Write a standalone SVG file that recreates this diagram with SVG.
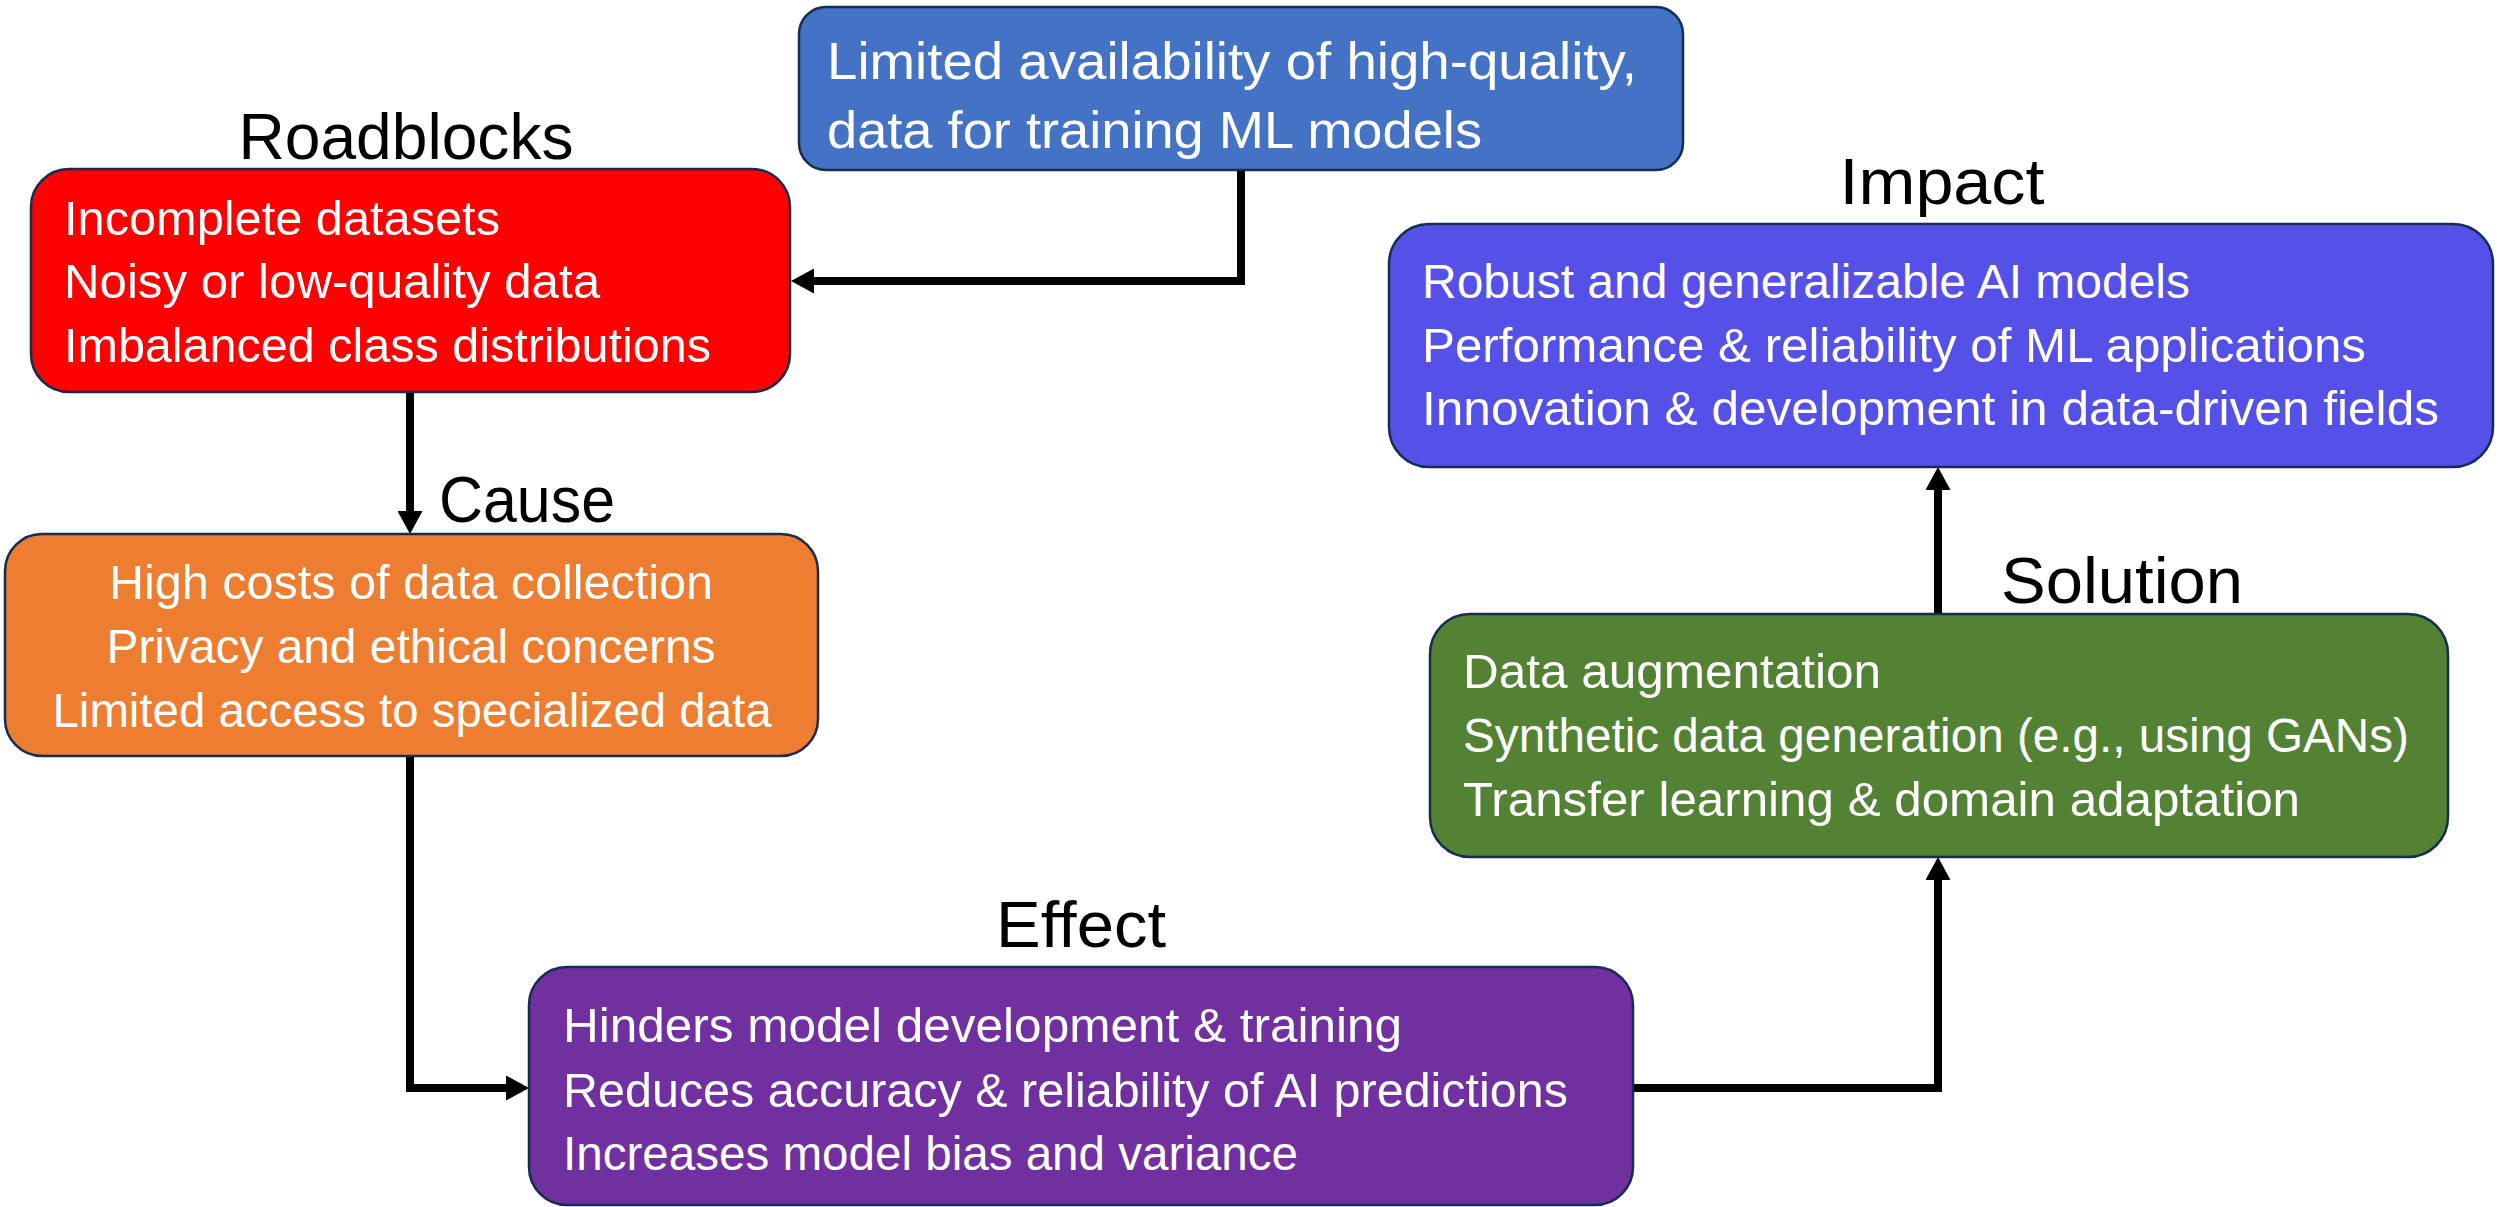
<svg xmlns="http://www.w3.org/2000/svg" width="2503" height="1207" viewBox="0 0 2503 1207">
  <style>
    .box { stroke: #172C51; stroke-width: 2.5; }
    .txt { font-family: "Liberation Sans", Arial, sans-serif; font-size: 48px; fill: #FFFFFF; }
    .big { font-size: 52px; }
    .title { font-family: "Liberation Sans", Arial, sans-serif; font-size: 65px; fill: #000000; text-anchor: middle; }
    .mid { text-anchor: middle; }
    .link { fill: none; stroke: #000000; stroke-width: 8; stroke-linejoin: miter; marker-end: url(#head); }
  </style>
  <defs>
    <marker id="head" viewBox="0 0 23 25" refX="0" refY="12.5" markerWidth="23" markerHeight="25" markerUnits="userSpaceOnUse" orient="auto">
      <path d="M0 0 L23 12.5 L0 25 Z" fill="#000000"/>
    </marker>
  </defs>
  <rect width="2503" height="1207" fill="#FFFFFF"/>

  <!-- connectors -->
  <g id="connectors">
    <path class="link" d="M1241 170 V281 H814"/>
    <path class="link" d="M410 392 V511"/>
    <path class="link" d="M410 756 V1088 H506"/>
    <path class="link" d="M1633 1088 H1938 V880"/>
    <path class="link" d="M1938 614 V490"/>
  </g>

  <!-- problem statement -->
  <g id="problem">
    <rect class="box" x="799" y="7" width="884" height="163" rx="27" fill="#4472C4"/>
    <text class="txt big" x="827" y="79" textLength="810" lengthAdjust="spacingAndGlyphs">Limited availability of high-quality,</text>
    <text class="txt big" x="827" y="148" textLength="655" lengthAdjust="spacingAndGlyphs">data for training ML models</text>
  </g>

  <!-- roadblocks -->
  <g id="roadblocks">
    <text class="title" x="406" y="159" textLength="335" lengthAdjust="spacingAndGlyphs">Roadblocks</text>
    <rect class="box" x="31" y="169" width="759" height="223" rx="38" fill="#FF0000"/>
    <text class="txt" x="64" y="235" textLength="436" lengthAdjust="spacingAndGlyphs">Incomplete datasets</text>
    <text class="txt" x="64" y="298" textLength="536" lengthAdjust="spacingAndGlyphs">Noisy or low-quality data</text>
    <text class="txt" x="64" y="362" textLength="647" lengthAdjust="spacingAndGlyphs">Imbalanced class distributions</text>
  </g>

  <!-- cause -->
  <g id="cause">
    <text class="title" x="527" y="522" textLength="176" lengthAdjust="spacingAndGlyphs">Cause</text>
    <rect class="box" x="5" y="534" width="813" height="222" rx="37" fill="#ED7D31"/>
    <text class="txt mid" x="411" y="599" textLength="604" lengthAdjust="spacingAndGlyphs">High costs of data collection</text>
    <text class="txt mid" x="411" y="663" textLength="609" lengthAdjust="spacingAndGlyphs">Privacy and ethical concerns</text>
    <text class="txt mid" x="412" y="727" textLength="719" lengthAdjust="spacingAndGlyphs">Limited access to specialized data</text>
  </g>

  <!-- effect -->
  <g id="effect">
    <text class="title" x="1081" y="947" textLength="170" lengthAdjust="spacingAndGlyphs">Effect</text>
    <rect class="box" x="529" y="967" width="1104" height="238" rx="38" fill="#7030A0"/>
    <text class="txt" x="563" y="1042" textLength="839" lengthAdjust="spacingAndGlyphs">Hinders model development &amp; training</text>
    <text class="txt" x="563" y="1107" textLength="1005" lengthAdjust="spacingAndGlyphs">Reduces accuracy &amp; reliability of AI predictions</text>
    <text class="txt" x="563" y="1170" textLength="735" lengthAdjust="spacingAndGlyphs">Increases model bias and variance</text>
  </g>

  <!-- solution -->
  <g id="solution">
    <text class="title" x="2122" y="603" textLength="242" lengthAdjust="spacingAndGlyphs">Solution</text>
    <rect class="box" x="1430" y="614" width="1018" height="243" rx="40" fill="#548235"/>
    <text class="txt" x="1463" y="688" textLength="418" lengthAdjust="spacingAndGlyphs">Data augmentation</text>
    <text class="txt" x="1463" y="752" textLength="946" lengthAdjust="spacingAndGlyphs">Synthetic data generation (e.g., using GANs)</text>
    <text class="txt" x="1463" y="816" textLength="837" lengthAdjust="spacingAndGlyphs">Transfer learning &amp; domain adaptation</text>
  </g>

  <!-- impact -->
  <g id="impact">
    <text class="title" x="1942" y="204" textLength="205" lengthAdjust="spacingAndGlyphs">Impact</text>
    <rect class="box" x="1389" y="224" width="1104" height="243" rx="40" fill="#5450E8"/>
    <text class="txt" x="1422" y="298" textLength="768" lengthAdjust="spacingAndGlyphs">Robust and generalizable AI models</text>
    <text class="txt" x="1422" y="362" textLength="944" lengthAdjust="spacingAndGlyphs">Performance &amp; reliability of ML applications</text>
    <text class="txt" x="1422" y="425" textLength="1017" lengthAdjust="spacingAndGlyphs">Innovation &amp; development in data-driven fields</text>
  </g>
</svg>
